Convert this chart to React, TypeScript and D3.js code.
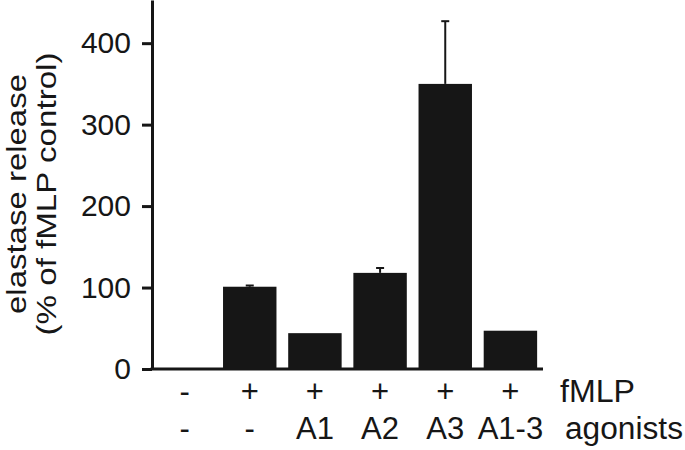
import React, { useRef, useEffect } from 'react';
import * as d3 from 'd3';

// conditions (one bar per group)
const groups = ['g0', 'g1', 'g2', 'g3', 'g4', 'g5'];
const fmlpLabels = ['-', '+', '+', '+', '+', '+'];
const agonistLabels = ['-', '-', 'A1', 'A2', 'A3', 'A1-3'];
// elastase release, % of fMLP control
const releaseValues = [0, 101, 44, 118, 350, 47];
const errorValues = [0, 1.5, 0, 6, 77, 0];
const yTicks = [0, 100, 200, 300, 400];

const App = () => {
    const svgRef = useRef<SVGSVGElement>(null);

    useEffect(() => {
        const svg = d3.select(svgRef.current);
        svg.selectAll('*').remove();

        const width = 685;
        const height = 450;
        const margin = { top: 0, right: 142, bottom: 81, left: 152 };
        const font = 'Liberation Sans, Arial, Helvetica, sans-serif';
        const ink = '#161616';

        const x = d3.scaleBand()
            .domain(groups)
            .range([margin.left, width - margin.right])
            .paddingInner(0.18)
            .paddingOuter(0.09);

        const y = d3.scaleLinear()
            .domain([0, 453])
            .range([height - margin.bottom, margin.top]);

        // bars
        svg.append('g')
            .attr('fill', ink)
            .selectAll('rect')
            .data(releaseValues)
            .join('rect')
            .attr('x', (d, i) => x(groups[i]))
            .attr('y', d => y(d))
            .attr('width', x.bandwidth())
            .attr('height', d => y(0) - y(d));

        // error bars (upper only)
        const err = svg.append('g')
            .attr('stroke', ink)
            .attr('stroke-width', 2);
        groups.forEach((g, i) => {
            if (!errorValues[i]) return;
            const cx = x(g) + x.bandwidth() / 2;
            const top = y(releaseValues[i] + errorValues[i]);
            err.append('line')
                .attr('x1', cx).attr('x2', cx)
                .attr('y1', y(releaseValues[i])).attr('y2', top);
            err.append('line')
                .attr('x1', cx - 4).attr('x2', cx + 4)
                .attr('y1', top).attr('y2', top);
        });

        // y axis
        const yAxis = svg.append('g')
            .attr('transform', `translate(${margin.left},0)`)
            .call(d3.axisLeft(y).tickValues(yTicks).tickSize(10).tickPadding(11).tickSizeOuter(0));
        yAxis.select('.domain').attr('stroke', ink).attr('stroke-width', 3);
        yAxis.selectAll('.tick line').attr('stroke', ink).attr('stroke-width', 3);
        yAxis.selectAll('.tick text')
            .attr('fill', ink)
            .style('font-family', font)
            .style('font-size', '30px');

        // x axis baseline
        svg.append('line')
            .attr('x1', margin.left - 1.5)
            .attr('x2', width - margin.right)
            .attr('y1', y(0))
            .attr('y2', y(0))
            .attr('stroke', ink)
            .attr('stroke-width', 3);

        // condition rows under the axis
        const rows = svg.append('g')
            .attr('fill', ink)
            .style('font-family', font)
            .style('font-size', '31px')
            .attr('text-anchor', 'middle');
        rows.selectAll('text.fmlp')
            .data(fmlpLabels)
            .join('text')
            .attr('class', 'fmlp')
            .attr('x', (d, i) => x(groups[i]) + x.bandwidth() / 2)
            .attr('y', 402)
            .text(d => d);
        rows.selectAll('text.ago')
            .data(agonistLabels)
            .join('text')
            .attr('class', 'ago')
            .attr('x', (d, i) => x(groups[i]) + x.bandwidth() / 2)
            .attr('y', 439)
            .text(d => d);

        svg.append('text')
            .attr('x', 560).attr('y', 402)
            .attr('fill', ink)
            .style('font-family', font).style('font-size', '31px')
            .attr('textLength', 75).attr('lengthAdjust', 'spacingAndGlyphs')
            .text('fMLP');
        svg.append('text')
            .attr('x', 565).attr('y', 439)
            .attr('fill', ink)
            .style('font-family', font).style('font-size', '31px')
            .attr('textLength', 118).attr('lengthAdjust', 'spacingAndGlyphs')
            .text('agonists');

        // y axis title, two lines
        const title = svg.append('g')
            .attr('transform', 'translate(0,194) rotate(-90)')
            .attr('fill', ink)
            .attr('text-anchor', 'middle')
            .style('font-family', font)
            .style('font-size', '28px');
        title.append('text')
            .attr('x', 0).attr('y', 26)
            .attr('textLength', 240).attr('lengthAdjust', 'spacingAndGlyphs')
            .text('elastase release');
        title.append('text')
            .attr('x', 0).attr('y', 56)
            .attr('textLength', 283).attr('lengthAdjust', 'spacingAndGlyphs')
            .text('(% of fMLP control)');
    }, []);

    return <svg ref={svgRef} width={685} height={450}
        style={{ position: 'absolute', left: 0, top: 0, background: '#fff' }}></svg>;
};

export default App;
